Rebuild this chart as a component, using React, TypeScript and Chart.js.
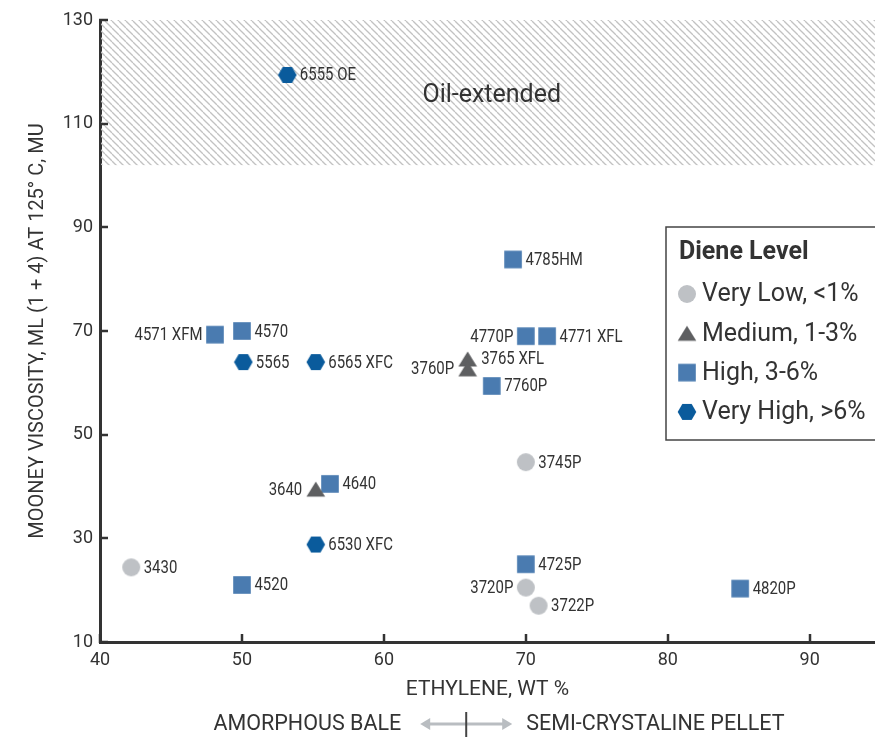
import React, { useEffect, useRef } from "react";
import { Chart, registerables } from "chart.js";

Chart.register(...registerables);

// ---------- data ----------
const veryLowNames = ["3430", "3745P", "3720P", "3722P"];
const veryLowX = [42.2, 70, 70, 70.9];
const veryLowY = [24.4, 44.7, 20.5, 17.0];

const mediumNames = ["3640", "3765 XFL", "3760P"];
const mediumX = [55.2, 65.9, 65.9];
const mediumY = [39.5, 64.6, 62.7];

const highNames = ["4785HM", "4571 XFM", "4570", "4770P", "4771 XFL", "7760P", "4640", "4520", "4725P", "4820P"];
const highX = [69.1, 48.1, 50, 70, 71.5, 67.6, 56.2, 50, 70, 85.1];
const highY = [83.8, 69.3, 70, 69, 69, 59.4, 40.5, 21.0, 25.0, 20.3];

const veryHighNames = ["6555 OE", "5565", "6565 XFC", "6530 XFC"];
const veryHighX = [53.2, 50.1, 55.2, 55.2];
const veryHighY = [119.4, 64, 64, 28.8];

const seriesLabels = ["Very Low, <1%", "Medium, 1-3%", "High, 3-6%", "Very High, >6%"];
const legendTitle = "Diene Level";
const leftLabelNames = ["4571 XFM", "4770P", "3760P", "3640", "3720P"];

const xTicks = [40, 50, 60, 70, 80, 90];
const yTicks = [10, 30, 50, 70, 90, 110, 130];
const oilExtendedFrom = 102;
const oilExtendedText = "Oil-extended";
const xTitle = "ETHYLENE, WT %";
const yTitle = "MOONEY VISCOSITY, ML (1 + 4) AT 125° C, MU";
const leftNote = "AMORPHOUS BALE";
const rightNote = "SEMI-CRYSTALINE PELLET";
const boundaryEthylene = 65.8;

// ---------- styles ----------
const FONT = "Roboto, 'Noto Sans', sans-serif";
const TEXT = "#333333";
const COLORS = ["#bec1c5", "#5e5f61", "#4a7bb0", "#0a5b9c"];
const SHAPES = ["circle", "triangle", "square", "hexagon"];

function makeMarker(kind: string, color: string): HTMLCanvasElement {
  const c = document.createElement("canvas");
  c.width = 20;
  c.height = 20;
  const ctx = c.getContext("2d")!;
  ctx.fillStyle = color;
  ctx.beginPath();
  if (kind === "circle") {
    ctx.arc(10, 10, 9, 0, Math.PI * 2);
  } else if (kind === "triangle") {
    ctx.moveTo(10, 2.5);
    ctx.lineTo(19.3, 17.5);
    ctx.lineTo(0.7, 17.5);
    ctx.closePath();
  } else if (kind === "square") {
    ctx.rect(1.2, 1.2, 17.6, 17.6);
  } else {
    const R = 9.3;
    for (let i = 0; i < 6; i++) {
      const a = (Math.PI / 3) * i;
      const px = 10 + R * Math.cos(a);
      const py = 10 + R * Math.sin(a) * 0.98;
      if (i === 0) ctx.moveTo(px, py);
      else ctx.lineTo(px, py);
    }
    ctx.closePath();
  }
  ctx.fill();
  return c;
}

function makeHatch(): CanvasPattern | string {
  const s = 7;
  const c = document.createElement("canvas");
  c.width = s;
  c.height = s;
  const ctx = c.getContext("2d")!;
  ctx.strokeStyle = "#c2c2c2";
  ctx.lineWidth = 1.3;
  for (let k = -1; k <= 1; k++) {
    ctx.beginPath();
    ctx.moveTo(k * s, 0);
    ctx.lineTo(k * s + s, s);
    ctx.stroke();
  }
  const main = document.createElement("canvas").getContext("2d")!;
  return main.createPattern(c, "repeat") || "#ddd";
}

export default function App() {
  const ref = useRef<HTMLCanvasElement | null>(null);

  useEffect(() => {
    if (!ref.current) return;
    const markers = SHAPES.map((s, i) => makeMarker(s, COLORS[i]));
    const hatch = makeHatch();
    const names = [veryLowNames, mediumNames, highNames, veryHighNames];
    const xs = [veryLowX, mediumX, highX, veryHighX];
    const ys = [veryLowY, mediumY, highY, veryHighY];

    const datasets = seriesLabels.map((label, i) => ({
      label,
      data: xs[i].map((x, j) => ({ x, y: ys[i][j] })),
      pointStyle: markers[i],
      pointRadius: 10,
      pointHoverRadius: 10,
      backgroundColor: COLORS[i],
      borderColor: COLORS[i],
      showLine: false,
    }));

    const hatchPlugin = {
      id: "hatch",
      beforeDatasetsDraw(chart: any) {
        const { ctx, chartArea, scales } = chart;
        const yTop = scales.y.getPixelForValue(scales.y.max);
        const yBot = scales.y.getPixelForValue(oilExtendedFrom);
        ctx.save();
        ctx.fillStyle = hatch;
        ctx.fillRect(chartArea.left + 1, yTop, chartArea.right - chartArea.left, yBot - yTop);
        ctx.fillStyle = TEXT;
        ctx.font = `25px ${FONT}`;
        ctx.textAlign = "center";
        ctx.textBaseline = "middle";
        ctx.fillText(oilExtendedText, scales.x.getPixelForValue(67.6), scales.y.getPixelForValue(115.4));
        ctx.restore();
      },
    };

    const labelPlugin = {
      id: "pointLabels",
      afterDatasetsDraw(chart: any) {
        const { ctx } = chart;
        ctx.save();
        ctx.font = `18px ${FONT}`;
        ctx.fillStyle = TEXT;
        ctx.textBaseline = "middle";
        const squeeze = 0.83;
        chart.data.datasets.forEach((ds: any, i: number) => {
          const meta = chart.getDatasetMeta(i);
          meta.data.forEach((pt: any, j: number) => {
            const name = names[i][j];
            const left = leftLabelNames.includes(name);
            const half = SHAPES[i] === "triangle" ? 10 : 9;
            const gap = half + 3.5;
            const w = ctx.measureText(name).width * squeeze;
            const tx = left ? pt.x - gap - w : pt.x + gap;
            ctx.save();
            ctx.translate(tx, pt.y + 1);
            ctx.scale(squeeze, 1);
            ctx.textAlign = "left";
            ctx.fillText(name, 0, 0);
            ctx.restore();
          });
        });
        ctx.restore();
      },
    };

    const axisPlugin = {
      id: "axisExtras",
      afterDraw(chart: any) {
        const { ctx, chartArea, scales } = chart;
        ctx.save();
        // inward tick marks
        ctx.strokeStyle = TEXT;
        ctx.lineWidth = 2.5;
        yTicks.forEach((v) => {
          const py = Math.round(scales.y.getPixelForValue(v));
          ctx.beginPath();
          ctx.moveTo(chartArea.left - 1, py);
          ctx.lineTo(chartArea.left + 8, py);
          ctx.stroke();
        });
        xTicks.forEach((v) => {
          const px = Math.round(scales.x.getPixelForValue(v));
          ctx.beginPath();
          ctx.moveTo(px, chartArea.bottom + 1);
          ctx.lineTo(px, chartArea.bottom - 8);
          ctx.stroke();
        });

        // legend box
        const bx = 666, by = 227, bw = 230, bh = 213;
        ctx.fillStyle = "#ffffff";
        ctx.fillRect(bx, by, bw, bh);
        ctx.strokeStyle = "#444444";
        ctx.lineWidth = 1.5;
        ctx.strokeRect(bx, by, bw, bh);
        ctx.fillStyle = TEXT;
        ctx.textBaseline = "middle";
        ctx.textAlign = "left";
        ctx.font = `bold 25px ${FONT}`;
        ctx.fillText(legendTitle, 679, 253);
        ctx.font = `25px ${FONT}`;
        seriesLabels.forEach((lab, i) => {
          const cy = 294 + i * 39.3;
          ctx.drawImage(markers[i], 687 - 10, cy - 10);
          ctx.fillText(lab, 702, cy + 1);
        });

        // bottom note with arrow
        const cy = 724;
        const cx = scales.x.getPixelForValue(boundaryEthylene);
        ctx.font = `21.5px ${FONT}`;
        ctx.fillStyle = TEXT;
        ctx.textAlign = "right";
        ctx.fillText(leftNote, cx - 65, cy + 1);
        ctx.textAlign = "left";
        ctx.fillText(rightNote, cx + 60, cy + 1);
        ctx.strokeStyle = "#b9bdc1";
        ctx.fillStyle = "#b9bdc1";
        ctx.lineWidth = 3;
        ctx.beginPath();
        ctx.moveTo(cx - 40, cy);
        ctx.lineTo(cx + 40, cy);
        ctx.stroke();
        ctx.beginPath();
        ctx.moveTo(cx - 46, cy);
        ctx.lineTo(cx - 36, cy - 6);
        ctx.lineTo(cx - 36, cy + 6);
        ctx.closePath();
        ctx.fill();
        ctx.beginPath();
        ctx.moveTo(cx + 46, cy);
        ctx.lineTo(cx + 36, cy - 6);
        ctx.lineTo(cx + 36, cy + 6);
        ctx.closePath();
        ctx.fill();
        ctx.strokeStyle = "#444";
        ctx.lineWidth = 2;
        ctx.beginPath();
        ctx.moveTo(cx, cy - 12);
        ctx.lineTo(cx, cy + 13);
        ctx.stroke();
        ctx.restore();
      },
    };

    const chart = new Chart(ref.current, {
      type: "scatter",
      data: { datasets },
      options: {
        responsive: false,
        animation: false,
        events: [],
        layout: { autoPadding: false, padding: { left: 0, top: 20, right: 0, bottom: 36 } },
        plugins: {
          legend: { display: false },
          tooltip: { enabled: false },
        },
        scales: {
          x: {
            type: "linear",
            min: 40,
            max: 94.6,
            afterBuildTicks: (s: any) => {
              s.ticks = xTicks.map((v) => ({ value: v }));
            },
            afterFit: (s: any) => {
              s.height = 60;
              s.paddingLeft = 0;
              s.paddingRight = 0;
            },
            ticks: { font: { family: FONT, size: 18 }, color: TEXT, padding: 8 },
            grid: { drawOnChartArea: false, drawTicks: false },
            border: { color: TEXT, width: 3 },
            title: {
              display: true,
              text: xTitle,
              font: { family: FONT, size: 21 },
              color: TEXT,
              padding: { top: 0, bottom: 0 },
            },
          },
          y: {
            type: "linear",
            min: 10,
            max: 130,
            afterBuildTicks: (s: any) => {
              s.ticks = yTicks.map((v) => ({ value: v }));
            },
            afterFit: (s: any) => {
              s.width = 100;
              s.paddingTop = 0;
              s.paddingBottom = 0;
            },
            ticks: { font: { family: FONT, size: 18 }, color: TEXT, padding: 7 },
            grid: { drawOnChartArea: false, drawTicks: false },
            border: { color: TEXT, width: 3 },
            title: {
              display: true,
              text: yTitle,
              font: { family: FONT, size: 20 },
              color: TEXT,
              padding: { top: 26, bottom: 0 },
            },
          },
        },
      },
      plugins: [hatchPlugin, labelPlugin, axisPlugin],
    } as any);

    return () => chart.destroy();
  }, []);

  return (
    <div style={{ position: "absolute", left: 0, top: 0, width: 875, height: 738, background: "#fff" }}>
      <canvas ref={ref} width={875} height={738} style={{ display: "block" }} />
    </div>
  );
}
